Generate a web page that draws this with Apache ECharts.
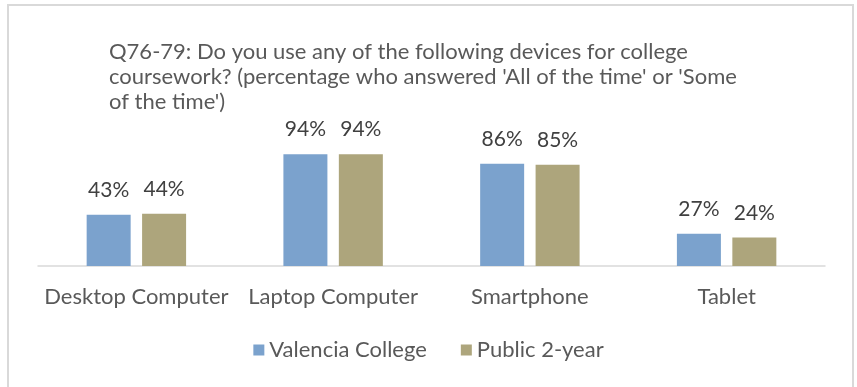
<!DOCTYPE html>
<html>
<head>
<meta charset="utf-8">
<script src="https://cdn.jsdelivr.net/npm/echarts@6/dist/echarts.min.js"></script>
<style>
  html, body { margin: 0; padding: 0; background: #ffffff; }
  #chart { width: 857px; height: 387px; }
</style>
</head>
<body>
<div id="chart"></div>
<script>
// Device use for coursework, share answering 'All of the time' or 'Some of the time'
const categories = ['Desktop Computer', 'Laptop Computer', 'Smartphone', 'Tablet'];
const seriesNames = ['Valencia College', 'Public 2-year'];
const valencia = [43, 94, 86, 27];
const public2yr = [44, 94, 85, 24];
const titleLines = [
  'Q76-79: Do you use any of the following devices for college',
  "coursework? (percentage who answered 'All of the time' or 'Some",
  "of the time')"
];

const FONT = 'Lato, "Open Sans", "Noto Sans", sans-serif';
const TEXT_GREY = '#595959';

const chart = echarts.init(document.getElementById('chart'), null, { renderer: 'canvas' });

const barLabel = {
  show: true,
  position: 'top',
  distance: 14,
  formatter: p => p.value + '%',
  color: '#404040',
  fontFamily: FONT,
  fontSize: 21
};

chart.setOption({
  animation: false,
  backgroundColor: '#ffffff',
  graphic: [{
    type: 'rect',
    shape: { x: 8, y: 5, width: 845, height: 395 },
    style: { fill: 'none', stroke: '#D9D9D9', lineWidth: 2 },
    silent: true
  }],
  title: {
    text: titleLines.join('\n'),
    left: 104,
    top: 34,
    textStyle: {
      color: TEXT_GREY,
      fontFamily: FONT,
      fontWeight: 'normal',
      fontSize: 22,
      lineHeight: 25
    }
  },
  legend: {
    data: seriesNames,
    left: 'center',
    top: 334,
    icon: 'rect',
    itemWidth: 11,
    itemHeight: 11,
    itemGap: 34,
    textStyle: { color: TEXT_GREY, fontFamily: FONT, fontSize: 22 }
  },
  grid: { left: 38, right: 32, top: 147, bottom: 121, containLabel: false },
  xAxis: {
    type: 'category',
    data: categories,
    axisLine: { lineStyle: { color: '#D9D9D9', width: 1.5 } },
    axisTick: { show: false },
    axisLabel: {
      interval: 0,
      hideOverlap: false,
      color: TEXT_GREY,
      fontFamily: FONT,
      fontSize: 22,
      margin: 20
    }
  },
  yAxis: {
    type: 'value',
    min: 0,
    max: 100,
    show: false,
    splitLine: { show: false }
  },
  series: [
    {
      name: seriesNames[0],
      type: 'bar',
      data: valencia,
      barWidth: 44,
      barGap: '26%',
      itemStyle: { color: '#7BA2CD' },
      label: barLabel
    },
    {
      name: seriesNames[1],
      type: 'bar',
      data: public2yr,
      barWidth: 44,
      barGap: '26%',
      itemStyle: { color: '#ADA57C' },
      label: barLabel
    }
  ]
});
</script>
</body>
</html>
